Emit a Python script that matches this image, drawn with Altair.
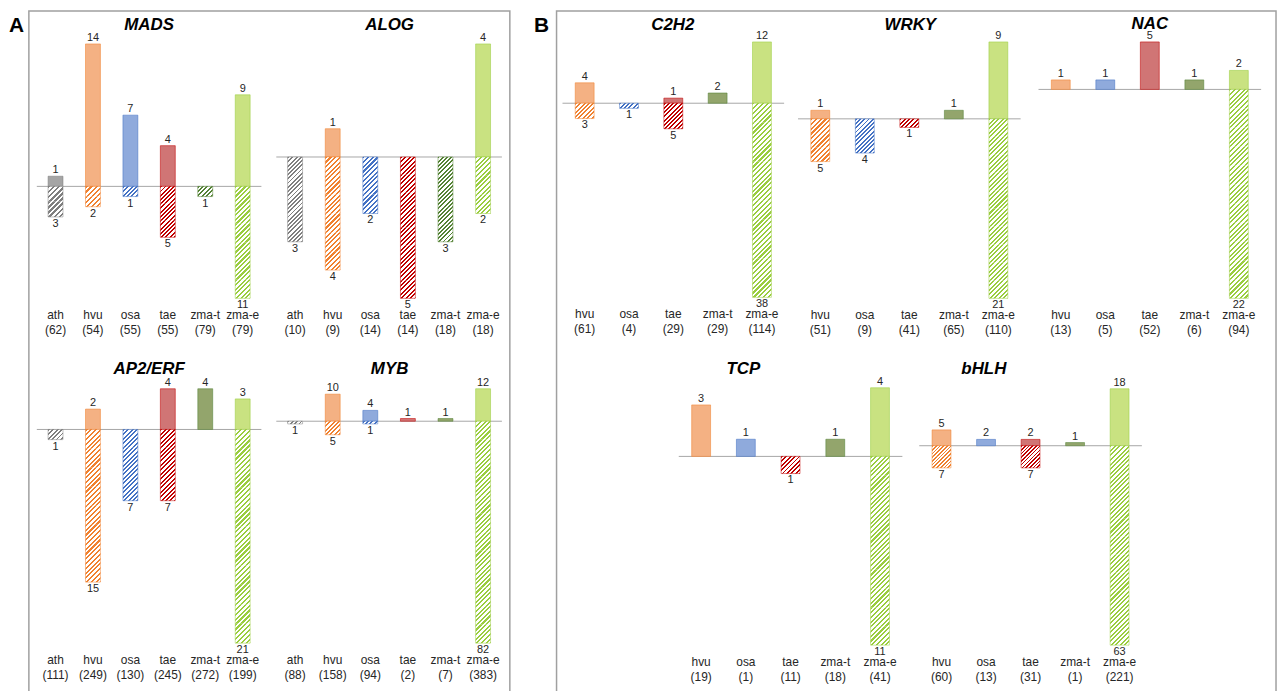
import math
import altair as alt
import pandas as pd

# ---------------- data ----------------
species = ["ath", "hvu", "osa", "tae", "zma-t", "zma-e"]
species_b = ["hvu", "osa", "tae", "zma-t", "zma-e"]

panel_names = ["MADS", "ALOG", "AP2/ERF", "MYB", "C2H2", "WRKY", "NAC", "TCP", "bHLH"]

mads_counts = [62, 54, 55, 55, 79, 79]
mads_up = [1, 14, 7, 4, 0, 9]
mads_down = [3, 2, 1, 5, 1, 11]

alog_counts = [10, 9, 14, 14, 18, 18]
alog_up = [0, 1, 0, 0, 0, 4]
alog_down = [3, 4, 2, 5, 3, 2]

ap2_counts = [111, 249, 130, 245, 272, 199]
ap2_up = [0, 2, 0, 4, 4, 3]
ap2_down = [1, 15, 7, 7, 0, 21]

myb_counts = [88, 158, 94, 2, 7, 383]
myb_up = [0, 10, 4, 1, 1, 12]
myb_down = [1, 5, 1, 0, 0, 82]

c2h2_counts = [61, 4, 29, 29, 114]
c2h2_up = [4, 0, 1, 2, 12]
c2h2_down = [3, 1, 5, 0, 38]

wrky_counts = [51, 9, 41, 65, 110]
wrky_up = [1, 0, 0, 1, 9]
wrky_down = [5, 4, 1, 0, 21]

nac_counts = [13, 5, 52, 6, 94]
nac_up = [1, 1, 5, 1, 2]
nac_down = [0, 0, 0, 0, 22]

tcp_counts = [19, 1, 11, 18, 41]
tcp_up = [3, 1, 0, 1, 4]
tcp_down = [0, 0, 1, 0, 11]

bhlh_counts = [60, 13, 31, 1, 221]
bhlh_up = [5, 2, 2, 1, 18]
bhlh_down = [7, 0, 7, 0, 63]

panel_data = {
    "MADS": (species, mads_counts, mads_up, mads_down),
    "ALOG": (species, alog_counts, alog_up, alog_down),
    "AP2/ERF": (species, ap2_counts, ap2_up, ap2_down),
    "MYB": (species, myb_counts, myb_up, myb_down),
    "C2H2": (species_b, c2h2_counts, c2h2_up, c2h2_down),
    "WRKY": (species_b, wrky_counts, wrky_up, wrky_down),
    "NAC": (species_b, nac_counts, nac_up, nac_down),
    "TCP": (species_b, tcp_counts, tcp_up, tcp_down),
    "bHLH": (species_b, bhlh_counts, bhlh_up, bhlh_down),
}

# ---------------- styles / layout (page pixels) ----------------
solid_colors = ["#A5A5A5", "#F4B183", "#8FAADC", "#D07575", "#93A56C", "#C9E281"]
hatch_colors = ["#7F7F7F", "#F0812F", "#4472C4", "#C00000", "#548235", "#9ACD3F"]
hatch_of = dict(zip(species, hatch_colors))

OFF = 8  # page margin
# left, right, top, bottom, title_x, title_y
layout = {
    "MADS": (37, 263, 42, 298, 150, 23),
    "ALOG": (278, 505, 42, 298, 392, 23),
    "AP2/ERF": (37, 263, 389, 645, 150, 369),
    "MYB": (278, 505, 389, 645, 392, 369),
    "C2H2": (566, 789, 40, 297, 677, 23),
    "WRKY": (803, 1027, 40, 298, 916, 23),
    "NAC": (1045, 1269, 40, 298, 1157, 22),
    "TCP": (683, 908, 388, 647, 748, 369),
    "bHLH": (925, 1149, 389, 647, 990, 369),
}
BAR_W = {6: 15.0, 5: 19.0}
FONT = "Liberation Sans"
TXT = "#262626"
PERIOD = 4.4
SEG_MAX = 20.0


def hatch_gradient(color, w, h, period, frac=0.45):
    """Diagonal '////' stripes as a hard-stop linear gradient over a w x h box."""
    c = (w + h) / (w * w + h * h)
    span = w + h
    stops = []
    j = 0
    while j * period < span:
        a = j * period / span
        b = min(1.0, (j + frac) * period / span)
        e = min(1.0, (j + 1) * period / span)
        stops += [
            {"offset": round(a, 5), "color": color},
            {"offset": round(b, 5), "color": color},
            {"offset": round(b, 5), "color": "#ffffff"},
            {"offset": round(e, 5), "color": "#ffffff"},
        ]
        j += 1
    return {"gradient": "linear", "x1": 0, "y1": 0,
            "x2": round(c * w, 6), "y2": round(c * h, 6), "stops": stops}


fill_scale = alt.Scale(domain=species, range=solid_colors)
stroke_scale = alt.Scale(domain=species, range=hatch_colors)

panel_layers = []
for name in panel_names:
    cats, counts, up, down = panel_data[name]
    L, R, T, B, tx, ty = layout[name]
    n = len(cats)
    umax, dmax = max(up), max(down)
    step = (R - L) / n
    bw = BAR_W[n]
    pi = 1 - bw / step
    k = (B - T) / (umax + dmax)

    df = pd.DataFrame({
        "cat": cats,
        "up": up,
        "neg": [-d for d in down],
        "down": down,
        "lab": [f"{c}\n({m})" for c, m in zip(cats, counts)],
    })
    xs = alt.Scale(domain=cats, range=[L - OFF, R - OFF], paddingInner=pi, paddingOuter=pi / 2)
    ys = alt.Scale(domain=[-dmax, umax], range=[B - OFF, T - OFF], nice=False, zero=False)
    X = alt.X("cat:N", scale=xs, axis=None)

    layers = []
    # zero line
    layers.append(
        alt.Chart(pd.DataFrame({"z": [0]})).mark_rule(color="#A6A6A6", strokeWidth=1).encode(
            y=alt.Y("z:Q", scale=ys, axis=None),
            x=alt.value(L - OFF), x2=alt.value(R - OFF))
    )
    # solid (up) bars
    layers.append(
        alt.Chart(df[df["up"] > 0]).mark_bar(strokeWidth=1, strokeOpacity=0.55).encode(
            x=X, y=alt.Y("up:Q", scale=ys, axis=None), y2=alt.datum(0),
            fill=alt.Fill("cat:N", scale=fill_scale, legend=None),
            stroke=alt.Stroke("cat:N", scale=stroke_scale, legend=None))
    )
    # hatched (down) bars: drawn in equal slices so the stripe gradient stays sharp
    for c, d in zip(cats, down):
        if d <= 0:
            continue
        col = hatch_of[c]
        h = d * k
        m = max(1, int(math.ceil(h / SEG_MAX)))
        hs = h / m
        per = PERIOD if m == 1 else hs / max(1, round(hs / PERIOD))
        g = hatch_gradient(col, bw, hs, per)
        seg_df = pd.DataFrame({"cat": [c] * m, "down": [d] * m,
                               "seg": list(range(m)), "nseg": [m] * m})
        layers.append(
            alt.Chart(seg_df).transform_calculate(
                lo="-datum.down * (datum.seg + 1) / datum.nseg",
                hi="-datum.down * datum.seg / datum.nseg",
            ).mark_bar(fill=g, strokeWidth=0).encode(
                x=X, y=alt.Y("lo:Q", scale=ys, axis=None), y2="hi:Q")
        )
        layers.append(
            alt.Chart(df[df["cat"] == c]).mark_bar(
                fill="#ffffff", fillOpacity=0, stroke=col, strokeWidth=1,
                strokeOpacity=0.5).encode(
                x=X, y=alt.Y("neg:Q", scale=ys, axis=None), y2=alt.datum(0))
        )
    # value labels
    layers.append(
        alt.Chart(df[df["up"] > 0]).mark_text(
            baseline="bottom", dy=-1, fontSize=11, font=FONT, color=TXT).encode(
            x=X, y=alt.Y("up:Q", scale=ys, axis=None), text="up:Q")
    )
    layers.append(
        alt.Chart(df[df["down"] > 0]).mark_text(
            baseline="top", dy=1, fontSize=11, font=FONT, color=TXT).encode(
            x=X, y=alt.Y("neg:Q", scale=ys, axis=None), text="down:Q")
    )
    # category labels
    layers.append(
        alt.Chart(df).mark_text(
            baseline="top", dy=12, fontSize=12, lineHeight=15, lineBreak="\n",
            font=FONT, color=TXT).encode(
            x=X, y=alt.Y(datum=-dmax, type="quantitative", scale=ys, axis=None), text="lab:N")
    )
    # panel title
    layers.append(
        alt.Chart(pd.DataFrame({"t": [name]})).mark_text(
            fontSize=17, fontWeight="bold", fontStyle="italic", font=FONT,
            color="#000000", baseline="middle").encode(
            x=alt.value(tx - OFF), y=alt.value(ty - OFF), text="t:N")
    )
    panel_layers.append(alt.layer(*layers))

# frames and panel letters (decoration)
frames = [
    alt.Chart(pd.DataFrame({"f": ["A"]})).mark_rect(
        fill="#ffffff", fillOpacity=0, stroke="#A0A0A0", strokeWidth=1.5).encode(
        x=alt.value(29 - OFF), x2=alt.value(513 - OFF), y=alt.value(0.8), y2=alt.value(700)),
    alt.Chart(pd.DataFrame({"f": ["B"]})).mark_rect(
        fill="#ffffff", fillOpacity=0, stroke="#A0A0A0", strokeWidth=1.5).encode(
        x=alt.value(560 - OFF), x2=alt.value(1284 - OFF), y=alt.value(0.8), y2=alt.value(700)),
    alt.Chart(pd.DataFrame({"t": ["A"]})).mark_text(
        fontSize=21, fontWeight="bold", font=FONT, color="#000000", baseline="middle").encode(
        x=alt.value(16.5 - OFF), y=alt.value(24 - OFF), text="t:N"),
    alt.Chart(pd.DataFrame({"t": ["B"]})).mark_text(
        fontSize=21, fontWeight="bold", font=FONT, color="#000000", baseline="middle").encode(
        x=alt.value(545 - OFF), y=alt.value(24 - OFF), text="t:N"),
]

chart = alt.layer(*frames, *panel_layers).resolve_scale(
    x="independent", y="independent"
).properties(
    width=1279, height=683, padding=0, autosize="none", background="#ffffff"
).configure_view(stroke=None)

chart.save("out.html", embed_options={"renderer": "svg", "actions": False})
